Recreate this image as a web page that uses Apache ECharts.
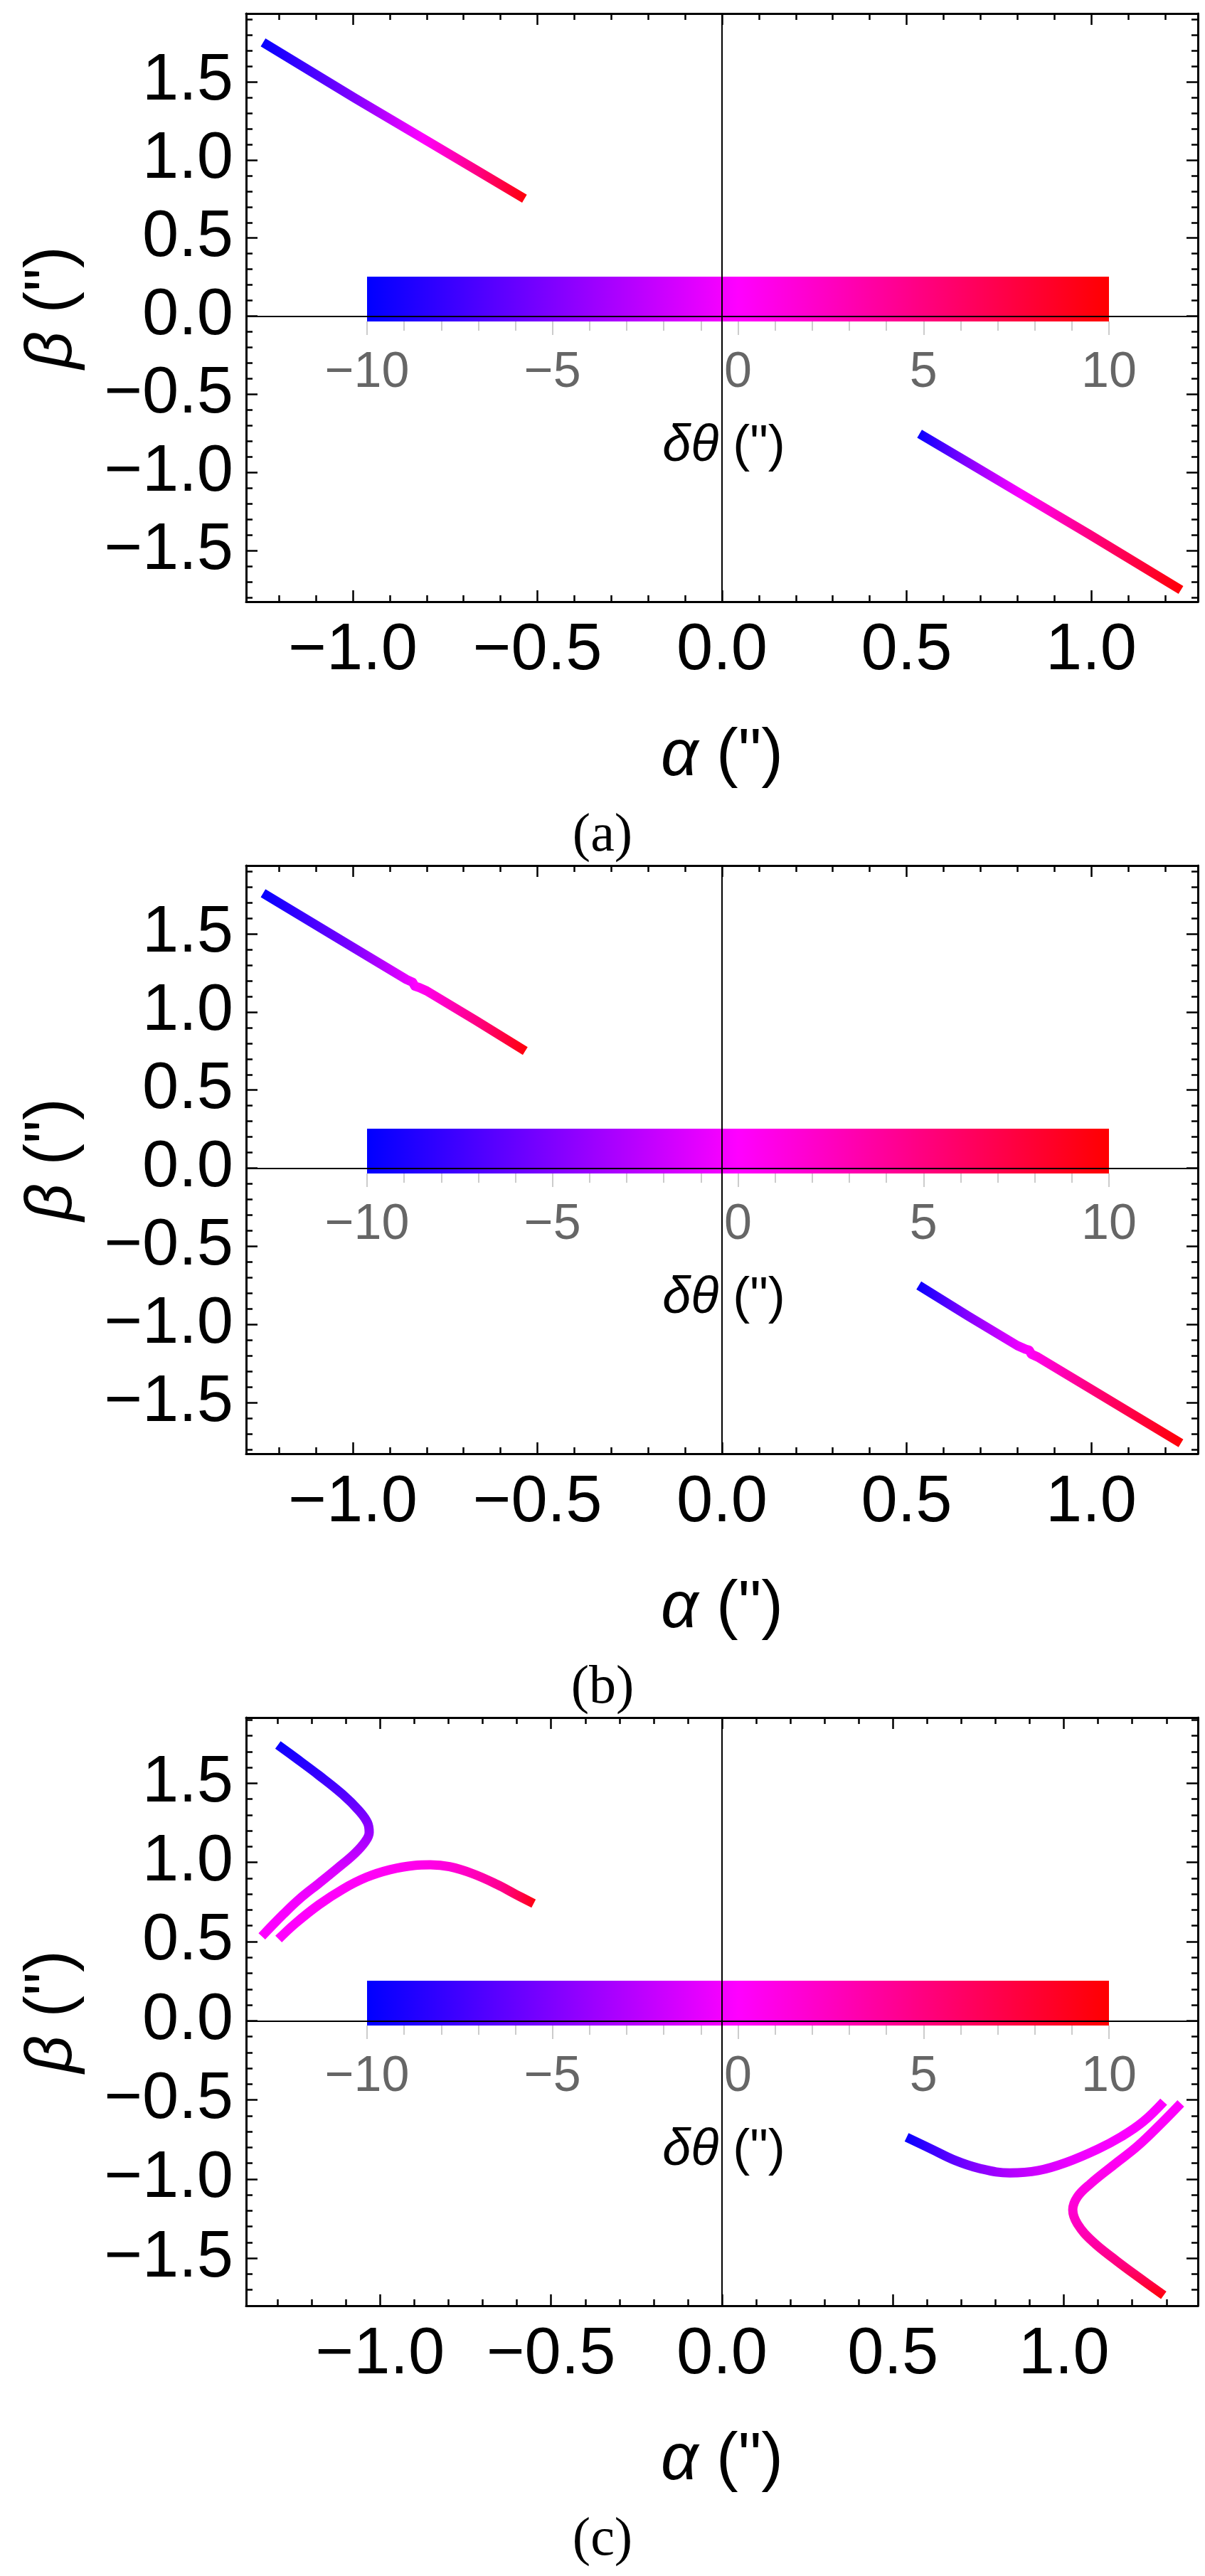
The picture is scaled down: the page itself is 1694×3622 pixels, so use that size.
<!DOCTYPE html>
<html>
<head>
<meta charset="utf-8">
<title>lens images</title>
<script src="https://cdn.jsdelivr.net/npm/echarts@6/dist/echarts.min.js"></script>
<style>
html, body { margin: 0; padding: 0; background: #fff; }
#chart { width: 1694px; height: 3622px; }
</style>
</head>
<body>
<div id="chart"></div>
<script>
/*
 * tick values
 */
var xMajor = [-1, -0.5, 0, 0.5, 1];
var xMinorAB = [-1.2, -1.1, -0.9, -0.8, -0.7, -0.6, -0.4, -0.3, -0.2, -0.1, 0.1, 0.2, 0.3, 0.4, 0.6, 0.7, 0.8, 0.9, 1.1, 1.2];
var xMinorC = [-1.3, -1.2, -1.1, -0.9, -0.8, -0.7, -0.6, -0.4, -0.3, -0.2, -0.1, 0.1, 0.2, 0.3, 0.4, 0.6, 0.7, 0.8, 0.9, 1.1, 1.2, 1.3];
var yMajor = [-1.5, -1, -0.5, 0, 0.5, 1, 1.5];
var yMinorAB = [-1.8, -1.7, -1.6, -1.4, -1.3, -1.2, -1.1, -0.9, -0.8, -0.7, -0.6, -0.4, -0.3, -0.2, -0.1, 0.1, 0.2, 0.3, 0.4, 0.6, 0.7, 0.8, 0.9, 1.1, 1.2, 1.3, 1.4, 1.6, 1.7, 1.8, 1.9];
var yMinorC = [-1.7, -1.6, -1.4, -1.3, -1.2, -1.1, -0.9, -0.8, -0.7, -0.6, -0.4, -0.3, -0.2, -0.1, 0.1, 0.2, 0.3, 0.4, 0.6, 0.7, 0.8, 0.9, 1.1, 1.2, 1.3, 1.4, 1.6, 1.7, 1.8, 1.9];

// colour legend: delta theta -> colour
var barTheta = [-10, 0, 10];
var barColors = ['#0000ff', '#ff00ff', '#ff0000'];

/*
 * curves, alpha / beta in arcsec, theta = delta theta of each point
 */
// (a)
var aUpAlpha = [-1.243, -0.994, -0.814, -0.667, -0.535];
var aUpBeta  = [1.752, 1.395, 1.143, 0.937, 0.752];
var aUpTheta = [-10, -5, 0, 5, 10];
var aLoAlpha = [0.535, 0.667, 0.814, 0.994, 1.243];
var aLoBeta  = [-0.752, -0.937, -1.143, -1.395, -1.752];
var aLoTheta = [-10, -5, 0, 5, 10];

// (b)
var bUpAlpha = [-1.243, -1.0, -0.855, -0.838, -0.832, -0.822, -0.80, -0.667, -0.533];
var bUpBeta  = [1.760, 1.414, 1.208, 1.190, 1.165, 1.158, 1.135, 0.946, 0.750];
var bUpTheta = [-10, -5.2, -1, -0.3, 0, 0.3, 1, 5, 10];
var bLoAlpha = [0.533, 0.667, 0.80, 0.822, 0.832, 0.838, 0.855, 1.0, 1.243];
var bLoBeta  = [-0.750, -0.946, -1.135, -1.158, -1.165, -1.190, -1.208, -1.414, -1.760];
var bLoTheta = [-10, -5, -1, -0.3, 0, 0.3, 1, 5.2, 10];

// (c)
var cUp1Alpha = [-1.299, -1.249, -1.179, -1.110, -1.061, -1.037, -1.032, -1.044, -1.075, -1.124, -1.179, -1.235, -1.283, -1.346];
var cUp1Beta  = [1.742, 1.663, 1.550, 1.430, 1.325, 1.251, 1.190, 1.130, 1.055, 0.965, 0.868, 0.771, 0.673, 0.533];
var cUp1Theta = [-10, -9, -8.1, -6.9, -5.6, -4.8, -4, -3.2, -2.5, -1.5, -0.9, -0.45, -0.2, -0.05];
var cUp2Alpha = [-1.297, -1.249, -1.179, -1.110, -1.040, -0.971, -0.901, -0.853, -0.797, -0.728, -0.658, -0.603, -0.551];
var cUp2Beta  = [0.516, 0.613, 0.733, 0.830, 0.906, 0.954, 0.981, 0.985, 0.973, 0.928, 0.861, 0.798, 0.740];
var cUp2Theta = [0.05, 0.08, 0.12, 0.2, 0.3, 0.45, 0.7, 1, 1.5, 2.8, 4.4, 6.9, 10];
var cLo1Alpha = [0.540, 0.613, 0.682, 0.751, 0.842, 0.925, 1.008, 1.099, 1.168, 1.231, 1.292];
var cLo1Beta  = [-0.736, -0.811, -0.882, -0.931, -0.961, -0.946, -0.894, -0.811, -0.732, -0.639, -0.511];
var cLo1Theta = [-10, -8, -6.4, -4.8, -3.1, -1.8, -0.8, -0.3, -0.15, -0.08, -0.03];
var cLo2Alpha = [1.342, 1.286, 1.217, 1.147, 1.078, 1.040, 1.026, 1.040, 1.085, 1.154, 1.224, 1.292];
var cLo2Beta  = [-0.522, -0.646, -0.789, -0.909, -1.029, -1.111, -1.194, -1.284, -1.396, -1.516, -1.628, -1.734];
var cLo2Theta = [0.05, 0.1, 0.25, 0.5, 0.9, 1.3, 1.8, 2.5, 3.6, 5, 7.3, 10];

/*
 * layout
 */
var panels = [
	{ top: 19, xr: [-1.289, 1.289], yr: [-1.827, 1.937], xMinor: xMinorAB, yMinor: yMinorAB, caption: '(a)', capTop: 1138, smooth: false,
	  curves: [[aUpAlpha, aUpBeta, aUpTheta, 'x'], [aLoAlpha, aLoBeta, aLoTheta, 'x']] },
	{ top: 1217, xr: [-1.289, 1.289], yr: [-1.827, 1.937], xMinor: xMinorAB, yMinor: yMinorAB, caption: '(b)', capTop: 2336, smooth: false,
	  curves: [[bUpAlpha, bUpBeta, bUpTheta, 'x'], [bLoAlpha, bLoBeta, bLoTheta, 'x']] },
	{ top: 2415, xr: [-1.392, 1.392], yr: [-1.80, 1.915], xMinor: xMinorC, yMinor: yMinorC, caption: '(c)', capTop: 3534, smooth: 0.4,
	  curves: [[cUp1Alpha, cUp1Beta, cUp1Theta, 'y'], [cUp2Alpha, cUp2Beta, cUp2Theta, 'x'],
	           [cLo1Alpha, cLo1Beta, cLo1Theta, 'x'], [cLo2Alpha, cLo2Beta, cLo2Theta, 'y']] }
];
var plotLeft = 346, plotWidth = 1338, plotHeight = 827;
var barLeft = 516, barWidth = 1043, barTopOff = 370, barHeight = 63;

var sansFont = '"Liberation Sans", Arial, "DejaVu Sans", sans-serif';
var bigSize = 92;

function hexToRgb(h) {
	return [parseInt(h.substr(1, 2), 16), parseInt(h.substr(3, 2), 16), parseInt(h.substr(5, 2), 16)];
}
function colorAt(t) {
	for (var i = 0; i < barTheta.length - 1; i++) {
		if (t <= barTheta[i + 1] || i === barTheta.length - 2) {
			var f = (t - barTheta[i]) / (barTheta[i + 1] - barTheta[i]);
			f = Math.max(0, Math.min(1, f));
			var c0 = hexToRgb(barColors[i]), c1 = hexToRgb(barColors[i + 1]);
			return 'rgb(' + Math.round(c0[0] + (c1[0] - c0[0]) * f) + ',' +
				Math.round(c0[1] + (c1[1] - c0[1]) * f) + ',' +
				Math.round(c0[2] + (c1[2] - c0[2]) * f) + ')';
		}
	}
}
// gradient along the curve's monotone direction
function curveGradient(al, be, th, dir) {
	var vals = dir === 'x' ? al : be;
	var lo = Math.min.apply(null, vals), hi = Math.max.apply(null, vals);
	var stops = [];
	for (var i = 0; i < vals.length; i++) {
		var off = dir === 'x' ? (vals[i] - lo) / (hi - lo) : (hi - vals[i]) / (hi - lo);
		stops.push({ offset: off, color: colorAt(th[i]) });
	}
	stops.sort(function (a, b) { return a.offset - b.offset; });
	return dir === 'x'
		? new echarts.graphic.LinearGradient(0, 0, 1, 0, stops)
		: new echarts.graphic.LinearGradient(0, 0, 0, 1, stops);
}
function fmt1(v) {
	return (v < 0 ? '\u2212' : '') + Math.abs(v).toFixed(1);
}

var grids = [], xAxes = [], yAxes = [], series = [], titles = [];
var frameLine = { show: true, onZero: false, lineStyle: { color: '#000', width: 3 } };
var noLine = { show: false, onZero: false };
var tickStyle = { color: '#000', width: 2.5 };

panels.forEach(function (p, g) {
	grids.push({ left: plotLeft, top: p.top, width: plotWidth, height: plotHeight });

	// x axes: bottom major / bottom minor / top major / top minor
	xAxes.push({
		type: 'value', gridIndex: g, position: 'bottom', min: p.xr[0], max: p.xr[1],
		axisLine: frameLine, splitLine: { show: false },
		axisTick: { inside: true, length: 16, customValues: xMajor, lineStyle: tickStyle },
		axisLabel: { customValues: xMajor, formatter: fmt1, fontSize: bigSize, fontFamily: sansFont, color: '#000', margin: 24 },
		name: '{g|\u03b1}{n| (")}', nameLocation: 'middle', nameGap: 172,
		nameTextStyle: { rich: {
			g: { fontSize: bigSize, fontFamily: sansFont, fontStyle: 'italic', color: '#000' },
			n: { fontSize: bigSize, fontFamily: sansFont, color: '#000' } } }
	});
	xAxes.push({
		type: 'value', gridIndex: g, position: 'bottom', min: p.xr[0], max: p.xr[1],
		axisLine: noLine, splitLine: { show: false }, axisLabel: { show: false },
		axisTick: { inside: true, length: 9, customValues: p.xMinor, lineStyle: tickStyle }
	});
	xAxes.push({
		type: 'value', gridIndex: g, position: 'top', min: p.xr[0], max: p.xr[1],
		axisLine: frameLine, splitLine: { show: false }, axisLabel: { show: false },
		axisTick: { inside: true, length: 16, customValues: xMajor, lineStyle: tickStyle }
	});
	xAxes.push({
		type: 'value', gridIndex: g, position: 'top', min: p.xr[0], max: p.xr[1],
		axisLine: noLine, splitLine: { show: false }, axisLabel: { show: false },
		axisTick: { inside: true, length: 9, customValues: p.xMinor, lineStyle: tickStyle }
	});

	// y axes: left major / left minor / right major / right minor
	yAxes.push({
		type: 'value', gridIndex: g, position: 'left', min: p.yr[0], max: p.yr[1],
		axisLine: frameLine, splitLine: { show: false },
		axisTick: { inside: true, length: 16, customValues: yMajor, lineStyle: tickStyle },
		axisLabel: { customValues: yMajor, formatter: fmt1, fontSize: bigSize, fontFamily: sansFont, color: '#000', margin: 18 },
		name: '{g|\u03b2}{n| (")}', nameLocation: 'middle', nameRotate: 90, nameGap: 226,
		nameTextStyle: { rich: {
			g: { fontSize: bigSize, fontFamily: sansFont, fontStyle: 'italic', color: '#000' },
			n: { fontSize: bigSize, fontFamily: sansFont, color: '#000' } } }
	});
	yAxes.push({
		type: 'value', gridIndex: g, position: 'left', min: p.yr[0], max: p.yr[1],
		axisLine: noLine, splitLine: { show: false }, axisLabel: { show: false },
		axisTick: { inside: true, length: 9, customValues: p.yMinor, lineStyle: tickStyle }
	});
	yAxes.push({
		type: 'value', gridIndex: g, position: 'right', min: p.yr[0], max: p.yr[1],
		axisLine: frameLine, splitLine: { show: false }, axisLabel: { show: false },
		axisTick: { inside: true, length: 16, customValues: yMajor, lineStyle: tickStyle }
	});
	yAxes.push({
		type: 'value', gridIndex: g, position: 'right', min: p.yr[0], max: p.yr[1],
		axisLine: noLine, splitLine: { show: false }, axisLabel: { show: false },
		axisTick: { inside: true, length: 9, customValues: p.yMinor, lineStyle: tickStyle }
	});

	// curves
	p.curves.forEach(function (c, k) {
		var pts = [];
		for (var i = 0; i < c[0].length; i++) pts.push([c[0][i], c[1][i]]);
		var s = {
			type: 'line', xAxisIndex: 4 * g, yAxisIndex: 4 * g,
			data: pts, symbol: 'none', showSymbol: false, smooth: p.smooth,
			lineStyle: { width: 13, color: curveGradient(c[0], c[1], c[2], c[3]), cap: 'butt', join: 'round' },
			silent: true, z: 3
		};
		if (k === 0) {
			s.markLine = {
				silent: true, symbol: 'none', z: 5, animation: false,
				label: { show: false },
				lineStyle: { color: '#000', width: 2, type: 'solid' },
				data: [{ xAxis: 0 }, { yAxis: 0 }]
			};
		}
		series.push(s);
	});

	titles.push({
		text: p.caption, left: 'center', top: p.capTop, padding: 0,
		textStyle: { fontFamily: '"Liberation Serif", "DejaVu Serif", serif', fontWeight: 'normal', fontSize: 76, color: '#000' }
	});
});

// colour legends, one per panel
panels.forEach(function (p, g) {
	var gi = panels.length + g;
	grids.push({ left: barLeft, top: p.top + barTopOff, width: barWidth, height: barHeight });
	xAxes.push({
		type: 'value', gridIndex: gi, position: 'bottom', min: barTheta[0], max: barTheta[barTheta.length - 1], interval: 5,
		axisLine: noLine, splitLine: { show: false },
		axisTick: { show: true, inside: false, length: 19, lineStyle: { color: '#cccccc', width: 2 } },
		minorTick: { show: true, splitNumber: 5, length: 13, lineStyle: { color: '#cccccc', width: 2 } },
		axisLabel: { fontSize: 70, fontFamily: sansFont, color: '#666666', margin: 38,
			formatter: function (v) { return (v < 0 ? '\u2212' : '') + Math.abs(v); } },
		name: '{g|\u03b4\u03b8}{n| (")}', nameLocation: 'middle', nameGap: 140,
		nameTextStyle: { padding: [0, 40, 0, 0], rich: {
			g: { fontSize: 72, fontFamily: sansFont, fontStyle: 'italic', color: '#000' },
			n: { fontSize: 72, fontFamily: sansFont, color: '#000' } } }
	});
	yAxes.push({ type: 'value', gridIndex: gi, min: 0, max: 1, show: false });
	series.push({
		type: 'custom', xAxisIndex: 12 + g, yAxisIndex: 12 + g, silent: true, z: 1,
		data: [[barTheta[0], barTheta[barTheta.length - 1]]],
		renderItem: function (params, api) {
			var p0 = api.coord([api.value(0), 1]);
			var p1 = api.coord([api.value(1), 0]);
			var lo = barTheta[0], hi = barTheta[barTheta.length - 1];
			var stops = barTheta.map(function (t, i) {
				return { offset: (t - lo) / (hi - lo), color: barColors[i] };
			});
			return {
				type: 'rect',
				shape: { x: p0[0], y: p0[1], width: p1[0] - p0[0], height: p1[1] - p0[1] },
				style: { fill: new echarts.graphic.LinearGradient(0, 0, 1, 0, stops) }
			};
		}
	});
});

var chart = echarts.init(document.getElementById('chart'));
chart.setOption({
	animation: false,
	backgroundColor: '#ffffff',
	title: titles,
	grid: grids,
	xAxis: xAxes,
	yAxis: yAxes,
	series: series
});

window.onresize = function () {
	chart.resize();
};
</script>
</body>
</html>
